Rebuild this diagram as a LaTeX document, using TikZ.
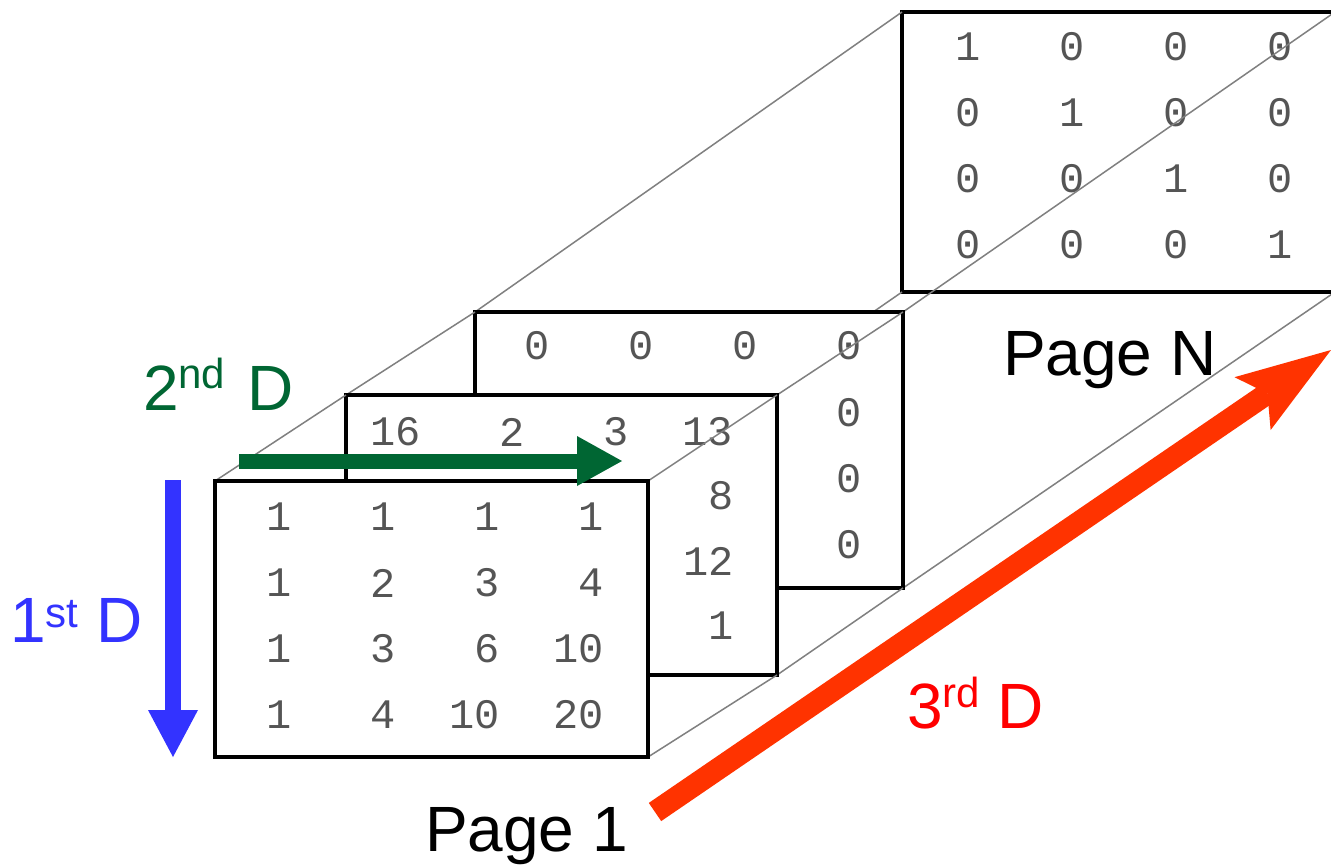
\documentclass[tikz,border=0pt]{standalone}
\usepackage{fontspec}
\setmainfont{Liberation Sans}
\newfontfamily\monofam{Liberation Mono}
\usetikzlibrary{arrows.meta,calc}
\definecolor{dblue}{RGB}{51,51,255}
\definecolor{dgreen}{RGB}{0,102,51}
\definecolor{arrred}{RGB}{255,51,0}
\definecolor{txtred}{RGB}{255,0,0}
\definecolor{numgray}{RGB}{85,85,85}
\pgfdeclarelayer{bg}
\pgfdeclarelayer{pageN}
\pgfdeclarelayer{depthC}
\pgfdeclarelayer{pageC}
\pgfdeclarelayer{depthB}
\pgfdeclarelayer{pageB}
\pgfdeclarelayer{depthA}
\pgfdeclarelayer{pageA}
\pgfsetlayers{bg,pageN,depthC,pageC,depthB,pageB,depthA,pageA,main}
\newcommand\labsup[2]{\raisebox{#1pt}{\fontsize{42}{42}\selectfont #2}}
\begin{document}
\begin{tikzpicture}[x=1pt,y=-1pt,
  pagebox/.style={draw=black,line width=4pt,fill=white,anchor=north west,minimum width=433pt,minimum height=278pt,inner sep=0pt,outer sep=0pt},
  num/.style={anchor=east,inner sep=0pt,outer sep=0pt,text=numgray,font=\monofam\fontsize{42}{42}\selectfont},
  depthline/.style={draw=black!50,line width=1.5pt},
  lab/.style={anchor=base west,inner sep=0pt,outer sep=0pt,font=\fontsize{64}{64}\selectfont},
]
\begin{pgfonlayer}{bg}
\fill[white] (0,0) rectangle (1331,865);
\end{pgfonlayer}
\useasboundingbox (0,0) rectangle (1331,865);

% Page N (back)
\begin{pgfonlayer}{pageN}
\node[pagebox,minimum height=280pt] (pN) at (902,12) {};
\foreach \r/\row in {1/{1,0,0,0},2/{0,1,0,0},3/{0,0,1,0},4/{0,0,0,1}}{
  \foreach \v [count=\c] in \row {
    \node[num] (nN-\r-\c) at ($(pN.north west)+({79+104*(\c-1)},{35+66*(\r-1)})$) {\v};
  }}
\end{pgfonlayer}

% Page 3
\begin{pgfonlayer}{pageC}
\node[pagebox,minimum width=428pt,minimum height=276pt] (pC) at (475,312) {};
\foreach \v [count=\c] in {0,0,0,0}
  \node[num] (nC-1-\c) at ($(pC.north west)+({75+104*(\c-1)},34)$) {\v};
\foreach \v [count=\r from 2] in {0,0,0}
  \node[num] (nC-\r-4) at ($(pC.north west)+(387,{35+66*(\r-1)})$) {\v};
\end{pgfonlayer}

% Page 2
\begin{pgfonlayer}{pageB}
\node[pagebox,minimum width=431pt,minimum height=280pt] (pB) at (346,395) {};
\foreach \v [count=\c] in {16,2,3,13}
  \node[num] (nB-1-\c) at ($(pB.north west)+({75+104*(\c-1)},37)$) {\v};
\foreach \v [count=\r from 2] in {8,12,1}
  \node[num] (nB-\r-4) at ($(pB.north west)+(388,{36+65*(\r-1)})$) {\v};
\end{pgfonlayer}

% Page 1 (front)
\begin{pgfonlayer}{pageA}
\node[pagebox,minimum height=276pt] (pA) at (215,481) {};
\foreach \r/\row in {1/{1,1,1,1},2/{1,2,3,4},3/{1,3,6,10},4/{1,4,10,20}}{
  \foreach \v [count=\c] in \row {
    \node[num] (nA-\r-\c) at ($(pA.north west)+({77+104*(\c-1)},{36+66*(\r-1)})$) {\v};
  }}
\end{pgfonlayer}

% depth edges
\begin{pgfonlayer}{depthC}
\foreach \a in {north west,north east,south east,south west}
  \draw[depthline] (pC.\a) -- (pN.\a);
\end{pgfonlayer}
\begin{pgfonlayer}{depthB}
\foreach \a in {north west,north east,south east,south west}
  \draw[depthline] (pB.\a) -- (pC.\a);
\end{pgfonlayer}
\begin{pgfonlayer}{depthA}
\foreach \a in {north west,north east,south east,south west}
  \draw[depthline] (pA.\a) -- (pB.\a);
\end{pgfonlayer}

% dimension arrows
\coordinate (bs) at (173,480);
\coordinate (be) at (173,757);
\draw[line width=16pt,dblue,-{Triangle[length=47pt,width=50pt,line width'=0pt]}] (bs) -- (be);
\coordinate (gs) at (239,461);
\coordinate (ge) at (622,461);
\draw[line width=15pt,dgreen,-{Triangle[length=45pt,width=50pt,line width'=0pt]}] (gs) -- (ge);
\coordinate (rs) at (655,812);
\coordinate (re) at (1331,350);
\draw[line width=22pt,arrred,-{Stealth[length=95pt,width=64pt,inset=18pt,line width'=0pt]}] (rs) -- (re);

% labels
\node[lab,text=dblue] (d1) at (10,642) {1\labsup{15}{st} D};
\node[lab,text=dgreen] (d2) at (143,410) {2\labsup{22}{nd}\hspace{4pt} D};
\node[lab,text=txtred] (d3) at (907,728) {3\labsup{21}{rd} D};
\node[lab] (pg1) at (425,851) {Page 1};
\node[lab] (pgN) at (1003,375) {Page N};
\end{tikzpicture}
\end{document}
